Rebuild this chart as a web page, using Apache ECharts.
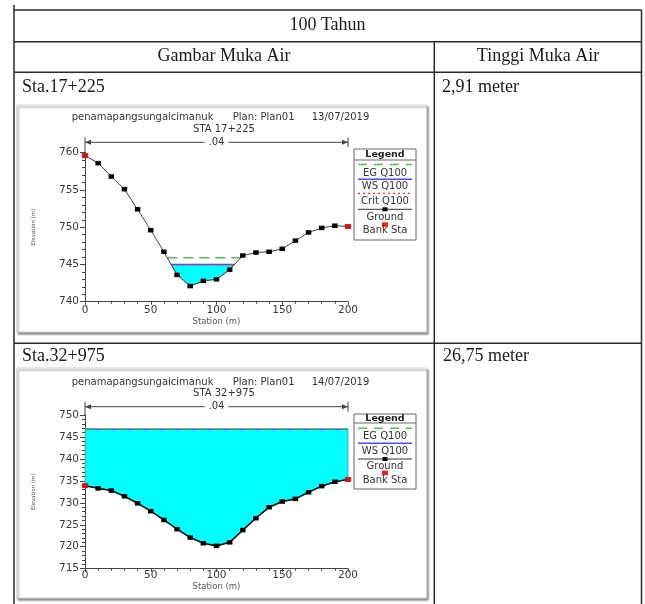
<!DOCTYPE html>
<html><head><meta charset="utf-8">
<script src="https://cdn.jsdelivr.net/npm/echarts@6/dist/echarts.min.js"></script>
<style>html,body{margin:0;padding:0;background:#fff}#c{width:645px;height:604px}</style>
</head><body><div id="c"></div>
<script>
// ---------- data ----------
const stations = [0,10,20,30,40,50,60,70,80,90,100,110,120,130,140,150,160,170,180,190,200];
const ground1 = [759.6,758.6,756.8,755.1,752.4,749.6,746.7,743.6,742.1,742.8,743.0,744.3,746.2,746.6,746.7,747.1,748.2,749.3,749.9,750.2,750.1];
const ground2 = [733.9,733.3,732.8,731.5,729.9,728.1,726.1,724.0,722.1,720.8,720.2,721.0,723.8,726.5,729.0,730.3,730.9,732.4,733.8,734.8,735.3];
const ws1 = 745.0, eg1 = 745.9, crit1 = 744.95;
const ws2 = 746.75, eg2 = 746.85;
const bankSta = [0, 200];
const title1 = ['penamapangsungaicimanuk', 'Plan: Plan01', '13/07/2019', 'STA 17+225'];
const title2 = ['penamapangsungaicimanuk', 'Plan: Plan01', '14/07/2019', 'STA 32+975'];
const legend1 = ['EG Q100', 'WS Q100', 'Crit Q100', 'Ground', 'Bank Sta'];
const legend2 = ['EG Q100', 'WS Q100', 'Ground', 'Bank Sta'];
const manningN = '.04';
const tableHead = ['100 Tahun', 'Gambar Muka Air', 'Tinggi Muka Air'];
const rowLabels = ['Sta.17+225', 'Sta.32+975'];
const rowValues = ['2,91 meter', '26,75 meter'];

// ---------- helpers ----------
function wetPath(st, gr, level) {
  const pts = [];
  for (let i = 0; i < st.length; i++) {
    if (gr[i] <= level) pts.push([st[i], gr[i]]);
    if (i < st.length - 1 && (gr[i] - level) * (gr[i + 1] - level) < 0) {
      const t = (level - gr[i]) / (gr[i + 1] - gr[i]);
      pts.push([st[i] + t * (st[i + 1] - st[i]), level]);
    }
  }
  return pts;
}
function waterPolygon(st, gr, level) {
  const p = wetPath(st, gr, level);
  const xs = p[0][0], xe = p[p.length - 1][0];
  return [[xs, level], [xe, level]].concat(p.slice().reverse());
}
function levelLine(st, gr, level) {
  const p = wetPath(st, gr, level);
  return [[p[0][0], level], [p[p.length - 1][0], level]];
}
function groundAt(st, gr, s) { return gr[st.indexOf(s)]; }

const FONT = 'DejaVu Sans';
const AX = '#444';
function axisX(idx, margin, gap) {
  return {
    type: 'value', gridIndex: idx, min: 0, max: 200, interval: 50,
    name: 'Station (m)', nameLocation: 'middle', nameGap: gap,
    nameTextStyle: { fontFamily: FONT, fontSize: 8.5, color: '#555' },
    axisLine: { lineStyle: { color: AX, width: 1 } },
    axisTick: { length: 3, lineStyle: { color: AX } },
    minorTick: { show: true, splitNumber: 5, length: 2, lineStyle: { color: AX } },
    splitLine: { show: false },
    axisLabel: { margin: margin, fontFamily: FONT, fontSize: 10.5, color: '#3a3a3a' }
  };
}
function axisY(idx, min, max) {
  return {
    type: 'value', gridIndex: idx, min: min, max: max, interval: 5,
    name: 'Elevation (m)', nameLocation: 'middle', nameGap: 48, nameRotate: 90,
    nameTextStyle: { fontFamily: FONT, fontSize: 5.5, color: '#555' },
    axisLine: { show: true, lineStyle: { color: AX, width: 1 } },
    axisTick: { show: true, length: 5, lineStyle: { color: AX } },
    minorTick: { show: true, splitNumber: 5, length: 3, lineStyle: { color: AX } },
    splitLine: { show: false },
    axisLabel: { margin: 6, fontFamily: FONT, fontSize: 10.5, color: '#3a3a3a' }
  };
}
function waterSeries(idx, poly) {
  return {
    type: 'custom', xAxisIndex: idx, yAxisIndex: idx, data: [[0, 0]], z: 1, silent: true,
    renderItem: function (params, api) {
      return { type: 'polygon', shape: { points: poly.map(p => api.coord(p)) },
        style: { fill: '#00ffff', stroke: '#6a6a6a', lineWidth: 0.6 } };
    }
  };
}
function lineSeries(idx, data, color, width, type, z) {
  return { type: 'line', xAxisIndex: idx, yAxisIndex: idx, data: data, symbol: 'none', z: z,
    lineStyle: { color: color, width: width, type: type }, silent: true };
}
function groundSeries(idx, gr, width) {
  return { type: 'line', xAxisIndex: idx, yAxisIndex: idx, z: 6, silent: true,
    data: stations.map((s, i) => [s, gr[i]]), symbol: 'rect', symbolSize: [5.5, 4.5], showAllSymbol: true,
    lineStyle: { color: width > 1 ? '#111' : '#444', width: width }, itemStyle: { color: '#000' } };
}
function bankSeries(idx, gr) {
  return { type: 'scatter', xAxisIndex: idx, yAxisIndex: idx, z: 7, silent: true,
    data: bankSta.map(s => [s, groundAt(stations, gr, s)]), symbol: 'rect', symbolSize: [6.5, 5],
    itemStyle: { color: '#ff1a1a' } };
}

const chart = echarts.init(document.getElementById('c'), null, { renderer: 'canvas' });
const option = {
  animation: false,
  backgroundColor: '#fff',
  grid: [
    { left: 85, top: 152.7, width: 263, height: 149 },
    { left: 85, top: 415, width: 263, height: 153.7 }
  ],
  xAxis: [axisX(0, 3, 16), axisX(1, 1.5, 13)],
  yAxis: [axisY(0, 740, 760), axisY(1, 715, 750)],
  series: [
    waterSeries(0, waterPolygon(stations, ground1, ws1)),
    lineSeries(0, levelLine(stations, ground1, ws1), '#4d4dff', 1.5, 'solid', 3),
    lineSeries(0, levelLine(stations, ground1, crit1), '#ff2a2a', 1.2, [2, 3], 4),
    lineSeries(0, levelLine(stations, ground1, eg1), '#55c055', 1.5, [10, 6], 4),
    groundSeries(0, ground1, 1),
    bankSeries(0, ground1),
    waterSeries(1, waterPolygon(stations, ground2, ws2)),
    lineSeries(1, levelLine(stations, ground2, ws2), '#4d4dff', 1.5, 'solid', 3),
    lineSeries(1, levelLine(stations, ground2, eg2), '#55c055', 1.5, [10, 6], 4),
    groundSeries(1, ground2, 1.6),
    bankSeries(1, ground2)
  ]
};
chart.setOption(option);

// ---------- graphic: table, panels, titles, legends, n-bracket ----------
const G = [];
const TL = '#2a2a2a';
function line(x1, y1, x2, y2, color, w, extra) {
  G.push(Object.assign({ type: 'line', shape: { x1, y1, x2, y2 }, style: { stroke: color, lineWidth: w }, z: 20, silent: true }, extra || {}));
}
function text(str, x, y, opt) {
  G.push({ type: 'text', x: x, y: y, z: 30, silent: true,
    style: Object.assign({ text: str, fill: '#333', font: '10px "DejaVu Sans"', align: 'center', verticalAlign: 'middle' }, opt || {}) });
}
// panels
[[16.7, 105, 410, 227], [16.7, 368, 410, 230]].forEach(r => {
  G.push({ type: 'rect', shape: { x: r[0], y: r[1], width: r[2], height: r[3] }, z: -5, silent: true,
    style: { fill: '#fff', stroke: '#d4d4d4', lineWidth: 1, shadowColor: 'rgba(0,0,0,0.45)', shadowOffsetX: 1.5, shadowOffsetY: 2, shadowBlur: 2 } });
});
// table lines
line(14, 5, 14, 604, TL, 1.5);
line(641.5, 10, 641.5, 604, TL, 1.5);
line(434.3, 41.7, 434.3, 604, TL, 1.5);
[10, 41.7, 72.3, 343.3].forEach(y => line(14, y, 641.5, y, TL, 1.5));
// table texts
const serif = '18px "Liberation Serif"';
text(tableHead[0], 327.5, 25, { font: serif, fill: '#1a1a1a' });
text(tableHead[1], 224, 56, { font: serif, fill: '#1a1a1a' });
text(tableHead[2], 538, 56, { font: serif, fill: '#1a1a1a' });
text(rowLabels[0], 22, 87, { font: serif, fill: '#1a1a1a', align: 'left' });
text(rowValues[0], 442, 87, { font: serif, fill: '#1a1a1a', align: 'left' });
text(rowLabels[1], 22, 356.5, { font: serif, fill: '#1a1a1a', align: 'left' });
text(rowValues[1], 443, 356.5, { font: serif, fill: '#1a1a1a', align: 'left' });

// chart titles
function titles(t, y1, y2) {
  text(t[0], 71.7, y1, { align: 'left' });
  text(t[1], 232.7, y1, { align: 'left' });
  text(t[2], 311.7, y1, { align: 'left' });
  text(t[3], 224, y2);
}
titles(title1, 117.3, 129);
titles(title2, 382.3, 393.3);

// n-value bracket
function bracket(grid, yTopVal, by) {
  const a = chart.convertToPixel({ gridIndex: grid }, [0, yTopVal]);
  const b = chart.convertToPixel({ gridIndex: grid }, [200, yTopVal]);
  const xl = a[0], xr = b[0];
  line(xl, a[1], xl, by - 5, AX, 1);
  line(xr, by - 5, xr, by + 5, AX, 1);
  line(xl, by, xr, by, AX, 1);
  G.push({ type: 'polygon', z: 21, silent: true, shape: { points: [[xl, by], [xl + 6, by - 2.5], [xl + 6, by + 2.5]] }, style: { fill: AX } });
  G.push({ type: 'polygon', z: 21, silent: true, shape: { points: [[xr, by], [xr - 6, by - 2.5], [xr - 6, by + 2.5]] }, style: { fill: AX } });
  text(manningN, (xl + xr) / 2, by, { backgroundColor: '#fff', padding: [0, 4] });
}
bracket(0, 760, 142.3);
bracket(1, 750, 406.7);

// legends
function legendBox(x, y, w, h, sepY, titleY) {
  G.push({ type: 'rect', z: 25, silent: true, shape: { x, y, width: w, height: h }, style: { fill: '#fff', stroke: '#666', lineWidth: 1 } });
  line(x, sepY, x + w, sepY, '#666', 1, { z: 26 });
  text('Legend', x + w / 2, titleY, { font: 'bold 9.5px "DejaVu Sans"', fill: '#222' });
}
function legLine(y, color, w, dash, dot) {
  G.push({ type: 'line', z: 27, silent: true, shape: { x1: 358, y1: y, x2: 412, y2: y }, style: { stroke: color, lineWidth: w, lineDash: dash } });
  if (dot) G.push({ type: 'rect', z: 28, silent: true, shape: { x: 382.5, y: y - 2, width: 5, height: 4 }, style: { fill: '#000' } });
}
function legDot(y) {
  G.push({ type: 'rect', z: 28, silent: true, shape: { x: 382, y: y - 2, width: 6, height: 4.5 }, style: { fill: '#ff1a1a' } });
}
// legend 1
legendBox(354, 149, 62, 91, 160, 154.5);
legLine(164.5, '#55c055', 1.5, [9, 7]);
text(legend1[0], 385, 173.3);
legLine(179.3, '#4d4dff', 1.5, null);
text(legend1[1], 385, 186.7);
legLine(193.3, '#ff2a2a', 1.2, [2, 3]);
text(legend1[2], 385, 201.3);
legLine(209.3, '#333', 1, null, true);
text(legend1[3], 385, 217.3);
legDot(224.3);
text(legend1[4], 385, 230.7);
// legend 2
legendBox(354, 414, 62, 75, 423, 418.5);
legLine(428.3, '#55c055', 1.5, [9, 7]);
text(legend2[0], 385, 436.7);
legLine(443.3, '#4d4dff', 1.5, null);
text(legend2[1], 385, 451.7);
legLine(459, '#333', 1, null, true);
text(legend2[2], 385, 466);
legDot(472.7);
text(legend2[3], 385, 480);

chart.setOption({ graphic: { elements: G } });
</script></body></html>
